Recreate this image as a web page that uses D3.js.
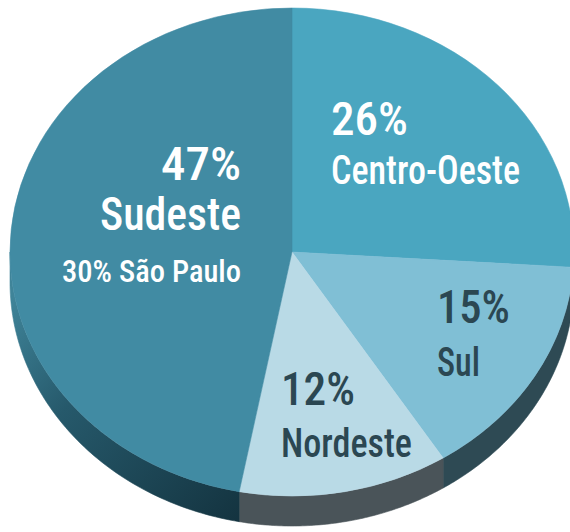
<!DOCTYPE html>
<html>
<head>
<meta charset="utf-8">
<script src="https://cdn.jsdelivr.net/npm/d3@7"></script>
<style>
  html, body { margin: 0; padding: 0; background: #ffffff; }
  svg { display: block; }
  text { font-family: "Liberation Sans Narrow", "Roboto Condensed", "DejaVu Sans Condensed", Roboto, "Noto Sans", sans-serif; }
</style>
</head>
<body>
<svg id="chart" width="570" height="532"></svg>
<script>
// ---- data (clockwise from 12 o'clock) ----
const categories = ["Centro-Oeste", "Sul", "Nordeste", "Sudeste"];
const values = [26, 15, 12, 47];
const valueLabels = ["26%", "15%", "12%", "47%"];
const subLabels = ["", "", "", "30% São Paulo"];

// ---- styles ----
const topColors = ["#4aa6c0", "#80bfd5", "#b9dae6", "#418ba3"];
const sideColors = ["#2f5a68", "#2e4a54", "#4a5459", "url(#sideGrad)"];
const textColors = ["#ffffff", "#2b4752", "#2b4752", "#ffffff"];

// ---- geometry ----
const W = 570, H = 532;
const cx = 292, cy = 252, rx = 282, ry = 244, depth = 30;

const svg = d3.select("#chart");
const defs = svg.append("defs");
const grad = defs.append("linearGradient")
  .attr("id", "sideGrad").attr("gradientUnits", "userSpaceOnUse")
  .attr("x1", 10).attr("y1", 300).attr("x2", 250).attr("y2", 520);
grad.append("stop").attr("offset", 0).attr("stop-color", "#3f8499");
grad.append("stop").attr("offset", 0.35).attr("stop-color", "#26596b");
grad.append("stop").attr("offset", 1).attr("stop-color", "#13323e");

const pie = d3.pie().sort(null).startAngle(0).endAngle(2 * Math.PI);
const arcs = pie(values);

// side walls (front half only)
function ellPt(a, dy) {
  return [cx + rx * Math.sin(a), cy - ry * Math.cos(a) + dy];
}
const sideG = svg.append("g");
arcs.forEach((d, i) => {
  const s = Math.max(d.startAngle, Math.PI / 2);
  const e = Math.min(d.endAngle, 3 * Math.PI / 2);
  if (s >= e) return;
  const n = 80;
  const pts = [];
  for (let k = 0; k <= n; k++) pts.push(ellPt(s + (e - s) * k / n, 0));
  for (let k = n; k >= 0; k--) pts.push(ellPt(s + (e - s) * k / n, depth));
  sideG.append("path")
    .attr("d", d3.line()(pts) + "Z")
    .attr("fill", sideColors[i])
    .attr("stroke", sideColors[i]).attr("stroke-width", 0.6);
});

// top faces via d3.arc, squashed into an ellipse
const arc = d3.arc().innerRadius(0).outerRadius(rx);
const topG = svg.append("g")
  .attr("transform", `translate(${cx},${cy}) scale(1,${ry / rx})`);
topG.selectAll("path").data(arcs).join("path")
  .attr("d", arc)
  .attr("fill", (d, i) => topColors[i])
  .attr("stroke", (d, i) => topColors[i]).attr("stroke-width", 0.6);

// ---- labels ----
const labelLayout = [
  { x: 331, anchor: "start", lines: [
      { y: 135, size: 46, w: 77, kind: "value" },
      { y: 184, size: 40, w: 189, kind: "name" } ] },
  { x: 437, anchor: "start", lines: [
      { y: 323, size: 46, w: 73, kind: "value" },
      { y: 376, size: 40, w: 43, kind: "name" } ] },
  { x: 281, anchor: "start", lines: [
      { y: 405, size: 46, w: 74, kind: "value" },
      { y: 457, size: 40, w: 131, kind: "name" } ] },
  { x: 241, anchor: "end", lines: [
      { y: 180, size: 46, w: 80, kind: "value" },
      { y: 230, size: 46, w: 141, kind: "name" },
      { y: 282, size: 31, w: 179, kind: "sub" } ] }
];

const labG = svg.append("g");
labelLayout.forEach((L, i) => {
  L.lines.forEach(ln => {
    const txt = ln.kind === "value" ? valueLabels[i]
              : ln.kind === "name" ? categories[i] : subLabels[i];
    labG.append("text")
      .attr("x", L.x).attr("y", ln.y)
      .attr("text-anchor", L.anchor)
      .attr("font-size", ln.size)
      .attr("font-weight", 500)
      .attr("fill", textColors[i])
      .attr("textLength", ln.w)
      .attr("lengthAdjust", "spacingAndGlyphs")
      .text(txt);
  });
});
</script>
</body>
</html>
